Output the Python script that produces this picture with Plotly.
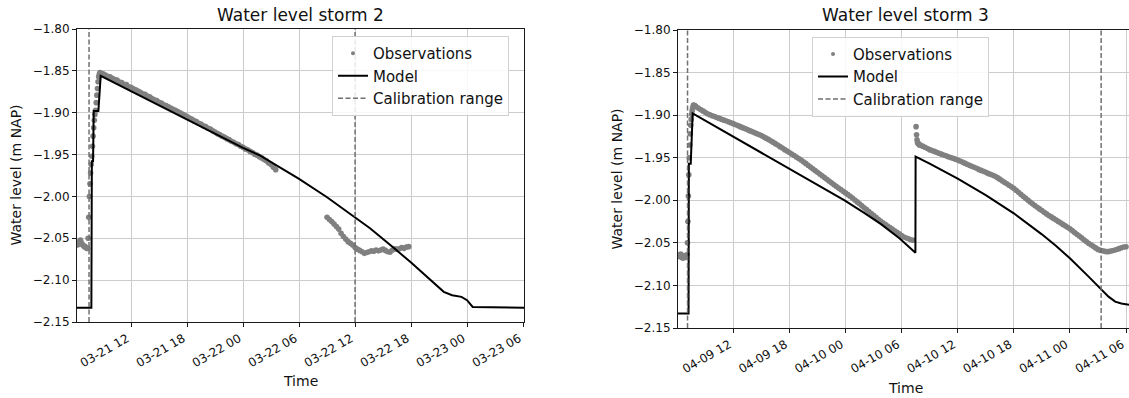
import numpy as np
import pandas as pd
import plotly.graph_objects as go

W, H = 1129, 398
FONT = "DejaVu Sans"

# ---------------- Storm 2 ----------------
S2_BASE = "2020-03-21 00:00"
s2_model_hours = [6.21, 7.75, 7.80, 7.93, 8.00, 8.50, 8.75, 18.0, 24.0, 25.8, 30.0, 33.0,
                  36.1, 37.6, 40.1, 42.0, 45.5, 46.4, 47.4, 48.0, 48.6, 54.1]
s2_model_level = [-2.133, -2.133, -1.958, -1.958, -1.898, -1.898, -1.856, -1.908, -1.942,
                  -1.951, -1.979, -2.001, -2.026, -2.038, -2.061, -2.079, -2.114, -2.118,
                  -2.120, -2.124, -2.132, -2.133]
s2_calibration_hours = [7.5, 36.0]

# observation segments: (start hour, step in minutes, levels)
s2_obs_pre = (6.25, 5, [-2.058, -2.057, -2.056, -2.053, -2.052, -2.055, -2.057, -2.058,
                        -2.059, -2.060, -2.060, -2.061, -2.062, -2.062])
s2_obs_rise = (7.4, 4, [-2.050, -2.025, -2.000, -1.985, -1.972, -1.962, -1.952, -1.940,
                        -1.928, -1.918, -1.909, -1.902, -1.897, -1.888, -1.879, -1.871,
                        -1.863, -1.857, -1.854, -1.852])
s2_obs_fall = (8.75, 15, [-1.8530, -1.8535, -1.8550, -1.8565, -1.8570, -1.8590, -1.8605,
                          -1.8610, -1.8635, -1.8640, -1.8660, -1.8665, -1.8690, -1.8695,
                          -1.8715, -1.8725, -1.8740, -1.8755, -1.8775, -1.8780, -1.8800,
                          -1.8810, -1.8830, -1.8845, -1.8855, -1.8875, -1.8885, -1.8905,
                          -1.8915, -1.8930, -1.8945, -1.8960, -1.8970, -1.8985, -1.9000,
                          -1.9015, -1.9030, -1.9045, -1.9065, -1.9075, -1.9095, -1.9105,
                          -1.9125, -1.9135, -1.9155, -1.9165, -1.9185, -1.9195, -1.9215,
                          -1.9230, -1.9250, -1.9262, -1.9280, -1.9292, -1.9310, -1.9322,
                          -1.9340, -1.9352, -1.9370, -1.9380, -1.9400, -1.9412, -1.9432,
                          -1.9443, -1.9462, -1.9475, -1.9495, -1.9507, -1.9525, -1.9540,
                          -1.9560, -1.9575, -1.9600, -1.9620, -1.9650, -1.9680])
s2_obs_late = (33.0, 15, [-2.0250, -2.0275, -2.0300, -2.0330, -2.0360, -2.0390, -2.0440,
                          -2.0480, -2.0510, -2.0540, -2.0560, -2.0580, -2.0610, -2.0630,
                          -2.0645, -2.0660, -2.0680, -2.0670, -2.0660, -2.0650, -2.0655,
                          -2.0640, -2.0650, -2.0640, -2.0630, -2.0645, -2.0660, -2.0665,
                          -2.0640, -2.0625, -2.0630, -2.0625, -2.0610, -2.0620, -2.0605,
                          -2.0600])

# ---------------- Storm 3 ----------------
S3_BASE = "2020-04-09 00:00"
s3_model_hours = [6.09, 7.22, 7.25, 7.45, 7.66, 23.9, 26.0, 27.8, 29.8, 31.48, 31.50,
                  33.0, 36.0, 39.0, 42.0, 45.0, 46.5, 48.0, 50.0, 51.07, 52.13, 52.84,
                  53.5, 54.4]
s3_model_level = [-2.133, -2.133, -1.957, -1.957, -1.898, -2.000, -2.0148, -2.028, -2.0448,
                  -2.0616, -1.9488, -1.9570, -1.9745, -1.9940, -2.0153, -2.0400, -2.0535,
                  -2.0681, -2.0897, -2.1015, -2.1132, -2.1190, -2.1212, -2.1228]
s3_calibration_hours = [7.11, 51.34]

s3_obs_pre = (6.12, 5, [-2.064, -2.066, -2.065, -2.063, -2.067, -2.066, -2.068, -2.065,
                        -2.066, -2.067, -2.066, -2.064])
s3_obs_rise = (7.1, 3, [-2.050, -2.025, -1.995, -1.970, -1.950, -1.935, -1.922, -1.912,
                        -1.905, -1.899, -1.895, -1.892, -1.890, -1.888, -1.8885, -1.889,
                        -1.889, -1.8895])
s3_obs_fall = (8.0, 15, [-1.8900, -1.8917, -1.8933, -1.8950, -1.8967, -1.8983, -1.8996,
                         -1.9007, -1.9017, -1.9027, -1.9038, -1.9048, -1.9059, -1.9069,
                         -1.9079, -1.9090, -1.9100, -1.9112, -1.9123, -1.9135, -1.9147,
                         -1.9158, -1.9170, -1.9182, -1.9193, -1.9205, -1.9217, -1.9228,
                         -1.9240, -1.9255, -1.9270, -1.9285, -1.9300, -1.9317, -1.9335,
                         -1.9352, -1.9370, -1.9387, -1.9405, -1.9422, -1.9439, -1.9457,
                         -1.9474, -1.9492, -1.9509, -1.9527, -1.9547, -1.9567, -1.9588,
                         -1.9609, -1.9630, -1.9650, -1.9671, -1.9692, -1.9712, -1.9733,
                         -1.9754, -1.9774, -1.9795, -1.9816, -1.9836, -1.9855, -1.9874,
                         -1.9894, -1.9913, -1.9933, -1.9952, -1.9974, -1.9996, -2.0019,
                         -2.0042, -2.0064, -2.0087, -2.0110, -2.0132, -2.0155, -2.0177,
                         -2.0200, -2.0223, -2.0245, -2.0265, -2.0283, -2.0302, -2.0320,
                         -2.0339, -2.0357, -2.0376, -2.0394, -2.0413, -2.0432, -2.0443,
                         -2.0453, -2.0463, -2.0470])
s3_obs_jump = (31.55, 3, [-1.9135, -1.9230, -1.9290, -1.9320, -1.9330, -1.9340, -1.9340,
                          -1.9350])
s3_obs_late = (32.0, 15, [-1.9350, -1.9364, -1.9377, -1.9391, -1.9405, -1.9416, -1.9426,
                          -1.9437, -1.9447, -1.9458, -1.9468, -1.9478, -1.9488, -1.9498,
                          -1.9507, -1.9517, -1.9527, -1.9539, -1.9551, -1.9564, -1.9576,
                          -1.9588, -1.9600, -1.9612, -1.9624, -1.9637, -1.9649, -1.9660,
                          -1.9672, -1.9684, -1.9695, -1.9707, -1.9719, -1.9734, -1.9752,
                          -1.9770, -1.9788, -1.9806, -1.9824, -1.9842, -1.9860, -1.9883,
                          -1.9906, -1.9929, -1.9952, -1.9975, -1.9998, -2.0021, -2.0041,
                          -2.0061, -2.0081, -2.0101, -2.0121, -2.0141, -2.0160, -2.0178,
                          -2.0195, -2.0213, -2.0230, -2.0248, -2.0265, -2.0283, -2.0300,
                          -2.0318, -2.0335, -2.0356, -2.0378, -2.0399, -2.0420, -2.0441,
                          -2.0463, -2.0484, -2.0505, -2.0523, -2.0541, -2.0559, -2.0577,
                          -2.0588, -2.0594, -2.0600, -2.0603, -2.0600, -2.0593, -2.0586,
                          -2.0578, -2.0568, -2.0558, -2.0548, -2.0545])

y_ticks = [-2.15, -2.10, -2.05, -2.00, -1.95, -1.90, -1.85, -1.80]


def at_hours(base, hours):
    return [pd.Timestamp(base) + pd.Timedelta(hours=h) for h in hours]


def obs_series(base, segments):
    times, levels = [], []
    for start_h, step_min, vals in segments:
        t0 = pd.Timestamp(base) + pd.Timedelta(hours=start_h)
        times.extend(t0 + pd.Timedelta(minutes=step_min) * i for i in range(len(vals)))
        levels.extend(vals)
    return times, levels


OBS_COLOR = "#808080"
CAL_COLOR = "#707070"
GRID = "#cccccc"
SPINE = "#1a1a1a"
CAL_DASH = "5px,2.5px"

fig = go.Figure()

panels = [
    dict(base=S2_BASE, mh=s2_model_hours, ml=s2_model_level, cal=s2_calibration_hours,
         obs=[s2_obs_pre, s2_obs_rise, s2_obs_fall, s2_obs_late], xa="x", ya="y", lg="legend"),
    dict(base=S3_BASE, mh=s3_model_hours, ml=s3_model_level, cal=s3_calibration_hours,
         obs=[s3_obs_pre, s3_obs_rise, s3_obs_fall, s3_obs_jump, s3_obs_late],
         xa="x2", ya="y2", lg="legend2"),
]

shapes = []
for p in panels:
    ot, ol = obs_series(p["base"], p["obs"])
    # observation points (legend entry drawn separately with a small dot)
    fig.add_trace(go.Scatter(x=ot, y=ol, mode="markers", showlegend=False,
                             marker=dict(color=OBS_COLOR, size=5.6, line=dict(width=0)),
                             xaxis=p["xa"], yaxis=p["ya"]))
    fig.add_trace(go.Scatter(x=[None], y=[None], mode="markers", name="Observations",
                             marker=dict(color=OBS_COLOR, size=4, line=dict(width=0)),
                             xaxis=p["xa"], yaxis=p["ya"], legend=p["lg"]))
    fig.add_trace(go.Scatter(x=at_hours(p["base"], p["mh"]), y=p["ml"], mode="lines",
                             name="Model", line=dict(color="black", width=2),
                             xaxis=p["xa"], yaxis=p["ya"], legend=p["lg"]))
    fig.add_trace(go.Scatter(x=[None], y=[None], mode="lines", name="Calibration range",
                             line=dict(color=CAL_COLOR, width=1.5, dash=CAL_DASH),
                             xaxis=p["xa"], yaxis=p["ya"], legend=p["lg"]))
    for ct in at_hours(p["base"], p["cal"]):
        shapes.append(dict(type="line", xref=p["xa"], yref=f"{p['ya']} domain",
                           x0=ct, x1=ct, y0=0, y1=1,
                           line=dict(color=CAL_COLOR, width=1.5, dash=CAL_DASH)))


def xaxis_style(base, lo, hi, left_px, right_px):
    return dict(domain=[left_px / W, right_px / W], type="date",
                range=at_hours(base, [lo, hi]), tickformat="%m-%d %H",
                tick0=base, dtick=6 * 3600 * 1000, tickangle=-30,
                ticklabeloverflow="allow", ticklabelshift=-4,
                showgrid=True, gridcolor=GRID, gridwidth=1,
                showline=True, linecolor=SPINE, linewidth=1, mirror=True,
                ticks="outside", ticklen=4, tickcolor=SPINE,
                tickfont=dict(family=FONT, size=12, color="#111"), automargin=False)


def yaxis_style(top_px, bottom_px, mirror):
    return dict(domain=[1 - bottom_px / H, 1 - top_px / H], range=[-2.15, -1.80],
                tickvals=y_ticks, tickformat=".2f",
                showgrid=True, gridcolor=GRID, gridwidth=1, zeroline=False,
                showline=True, linecolor=SPINE, linewidth=1, mirror=mirror,
                ticks="outside", ticklen=4, tickcolor=SPINE,
                tickfont=dict(family=FONT, size=12, color="#111"), automargin=False)


legend_style = dict(font=dict(family=FONT, size=15, color="#111"),
                    bgcolor="rgba(255,255,255,0.85)", bordercolor="#d0d0d0", borderwidth=1,
                    xanchor="left", yanchor="top", tracegroupgap=0)

annotations = []
for text, cx, cy, size, angle in [
    ("Water level storm 2", 300.5, 15, 17, 0),
    ("Water level storm 3", 905, 15.5, 17, 0),
    ("Time", 300.5, 381, 14, 0),
    ("Time", 905, 387.5, 14, 0),
    ("Water level (m NAP)", 16, 175.5, 14, -90),
    ("Water level (m NAP)", 616.5, 179, 14, -90),
]:
    annotations.append(dict(text=text, x=cx / W, y=1 - cy / H, xref="paper", yref="paper",
                            showarrow=False, xanchor="center", yanchor="middle",
                            textangle=angle, font=dict(family=FONT, size=size, color="#111")))

fig.update_layout(
    width=W, height=H, margin=dict(l=0, r=0, t=0, b=0),
    paper_bgcolor="white", plot_bgcolor="white",
    xaxis=dict(anchor="y", **xaxis_style(S2_BASE, 6.21, 54.1, 77, 524)),
    yaxis=dict(anchor="x", **yaxis_style(29, 322, True)),
    xaxis2=dict(anchor="y2", **xaxis_style(S3_BASE, 6.09, 54.32, 678, 1129)),
    yaxis2=dict(anchor="x2", **yaxis_style(30, 328, False)),
    legend=dict(x=332 / W, y=1 - 36 / H, **legend_style),
    legend2=dict(x=812 / W, y=1 - 36.7 / H, **legend_style),
    shapes=shapes, annotations=annotations, showlegend=True,
)

fig.write_html("out.html")
